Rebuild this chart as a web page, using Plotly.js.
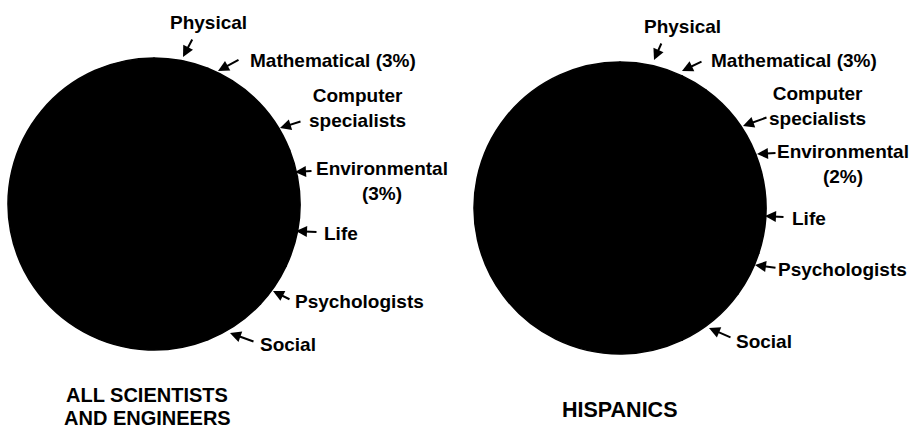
<!DOCTYPE html>
<html>
<head>
<meta charset="utf-8">
<script src="https://cdn.plot.ly/plotly-3.0.1.min.js"></script>
<style>html,body{margin:0;padding:0;background:#fff;}#chart{width:909px;height:429px;}</style>
</head>
<body>
<div id="chart"></div>
<script>
// Fields of scientists and engineers (clockwise from 12 o'clock)
var categories = ["Physical", "Mathematical", "Computer specialists", "Environmental", "Life", "Psychologists", "Social", "Engineers"];
// Percent shares (Math and Environmental are labelled)
var allValues  = [6, 3, 10, 3, 10, 5, 7, 56];
var hispValues = [7, 3, 9, 2, 9, 5, 8, 57];
var chartTitles = [["ALL SCIENTISTS", "AND ENGINEERS"], ["HISPANICS"]];
var allLabels  = ["Physical", "Mathematical (3%)", "Computer<br>specialists", "Environmental<br>(3%)", "Life", "Psychologists", "Social"];
var hispLabels = ["Physical", "Mathematical (3%)", "Computer<br>specialists", "Environmental<br>(2%)", "Life", "Psychologists", "Social"];

var W = 909, H = 429;
function px(x){ return x / W; }
function py(y){ return 1 - y / H; }
function dom(cx, cy, r){ return {x:[px(cx - r), px(cx + r)], y:[py(cy + r), py(cy - r)]}; }

var black = categories.map(function(){ return "#000000"; });
function pie(vals, d){
  return {
    type: "pie", labels: categories, values: vals, sort: false,
    direction: "clockwise", rotation: 0, textinfo: "none", hoverinfo: "label+percent",
    marker: {colors: black, line: {color: "#000000", width: 1.5}},
    domain: d, showlegend: false
  };
}

var font = {family: "Liberation Sans, Arial, sans-serif", size: 19, color: "#000000", weight: "bold"};
var tfont = {family: "Liberation Sans, Arial, sans-serif", size: 20, color: "#000000", weight: "bold"};
var hfont = {family: "Liberation Sans, Arial, sans-serif", size: 21.5, color: "#000000", weight: "bold"};

// label text centres and arrow tail/tip (pixels)
var leftText  = [[208,23],[333,61],[357,108],[382,181],[341,233],[359,301],[288,344]];
var leftArrow = [[193,38,183,57],[240,59,218,71],[302,121,280,128],[313,171,295,172],[318,232,296,231],[291,300,273,291],[255,342,230,333]];
var rightText = [[682,27],[794,60],[817,106],[843,164],[809,218],[842,269],[764,341]];
var rightArrow= [[662,42,654,60],[703,61,682,71],[768,117,743,126],[777,153,757,154],[785,217,765,216],[777,268,755,265],[732,338,709,328]];

var ann = [];
function addSet(labels, textPos, arrows){
  labels.forEach(function(t, i){
    ann.push({text: t, x: px(textPos[i][0]), y: py(textPos[i][1]), xref: "paper", yref: "paper",
      showarrow: false, xanchor: "center", yanchor: "middle", font: font, align: "center"});
    var a = arrows[i];
    ann.push({text: "", x: px(a[2]), y: py(a[3]), xref: "paper", yref: "paper",
      showarrow: true, ax: a[0] - a[2], ay: a[1] - a[3], arrowhead: 2, arrowsize: 1.1,
      arrowwidth: 2, arrowcolor: "#000000", standoff: 0, startstandoff: 0});
  });
}
addSet(allLabels, leftText, leftArrow);
addSet(hispLabels, rightText, rightArrow);

ann.push({text: chartTitles[0][0], x: px(147), y: py(395), xref:"paper", yref:"paper", showarrow:false, xanchor:"center", yanchor:"middle", font:tfont});
ann.push({text: chartTitles[0][1], x: px(147), y: py(418), xref:"paper", yref:"paper", showarrow:false, xanchor:"center", yanchor:"middle", font:tfont});
ann.push({text: chartTitles[1][0], x: px(619), y: py(410), xref:"paper", yref:"paper", showarrow:false, xanchor:"center", yanchor:"middle", font:hfont});

var data = [pie(allValues, dom(154, 204, 146)), pie(hispValues, dom(620, 208, 146))];
var layout = {width: W, height: H, margin: {l:0, r:0, t:0, b:0}, paper_bgcolor: "#ffffff",
  plot_bgcolor: "#ffffff", annotations: ann, showlegend: false};
Plotly.newPlot("chart", data, layout, {displayModeBar: false, staticPlot: true});
</script>
</body>
</html>
